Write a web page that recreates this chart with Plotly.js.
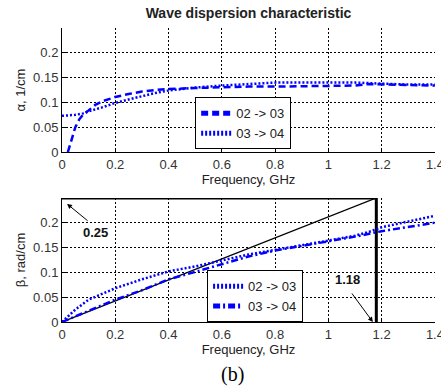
<!DOCTYPE html>
<html>
<head>
<meta charset="utf-8">
<script src="https://cdn.plot.ly/plotly-3.0.1.min.js"></script>
<style>html,body{margin:0;padding:0;background:#fff;}#chart{width:441px;height:391px;}</style>
</head>
<body>
<div id="chart"></div>
<script>
// ---- Data ----
const chartTitle = "Wave dispersion characteristic";
const xTickVals = [0, 0.2, 0.4, 0.6, 0.8, 1, 1.2, 1.4];
const xTickText = ["0", "0.2", "0.4", "0.6", "0.8", "1", "1.2", "1.4"];
const yTickVals = [0, 0.05, 0.1, 0.15, 0.2];
const yTickText = ["0", "0.05", "0.1", "0.15", "0.2"];

// Attenuation alpha (1/cm)
const alpha0203_f = [0.022, 0.03, 0.04, 0.05, 0.065, 0.08, 0.1, 0.125, 0.15, 0.2, 0.25, 0.3, 0.35, 0.4, 0.5, 0.6, 0.7, 0.8, 0.9, 1.0, 1.1, 1.15, 1.2, 1.3, 1.4];
const alpha0203   = [0, 0.015, 0.035, 0.05, 0.066, 0.076, 0.084, 0.095, 0.102, 0.111, 0.117, 0.122, 0.125, 0.127, 0.129, 0.131, 0.132, 0.132, 0.133, 0.133, 0.134, 0.137, 0.136, 0.135, 0.134];
const alpha0304_f = [0, 0.05, 0.08, 0.1, 0.15, 0.2, 0.25, 0.3, 0.35, 0.4, 0.5, 0.6, 0.7, 0.8, 0.9, 1.0, 1.1, 1.2, 1.3, 1.4];
const alpha0304   = [0.073, 0.075, 0.078, 0.082, 0.09, 0.099, 0.106, 0.113, 0.119, 0.124, 0.13, 0.134, 0.137, 0.14, 0.14, 0.14, 0.14, 0.138, 0.136, 0.136];

// Phase constant beta (rad/cm)
const beta0203_f = [0, 0.025, 0.05, 0.1, 0.15, 0.2, 0.3, 0.4, 0.5, 0.6, 0.65, 0.7, 0.8, 0.9, 1.0, 1.1, 1.15, 1.2, 1.3, 1.4];
const beta0203   = [0, 0.012, 0.025, 0.045, 0.057, 0.068, 0.086, 0.102, 0.112, 0.123, 0.13, 0.136, 0.145, 0.154, 0.164, 0.174, 0.181, 0.191, 0.202, 0.214];
const beta0304_f = [0, 0.1, 0.2, 0.3, 0.4, 0.5, 0.6, 0.7, 0.8, 0.9, 1.0, 1.1, 1.2, 1.3, 1.4];
const beta0304   = [0, 0.022, 0.045, 0.064, 0.086, 0.101, 0.117, 0.132, 0.144, 0.153, 0.163, 0.172, 0.183, 0.192, 0.2];

// Light-line reference (black)
const lightLine_f = [0, 1.18];
const lightLine_b = [0, 0.25];
const box_f = [0, 1.18, 1.18];
const box_b = [0.25, 0.25, 0];

const legendNames = ["02 -> 03", "03 -> 04"];
const annBeta = {text: "0.25", x: 0.124, y: 0.181, hx: 0.019, hy: 0.238};
const annFreq = {text: "1.18", x: 1.073, y: 0.085, hx: 1.167, hy: 0.0};

// ---- Traces ----
const blue = "#0000ff";
const traces = [
  {x: alpha0203_f, y: alpha0203, name: legendNames[0], mode: "lines", xaxis: "x", yaxis: "y", legend: "legend",
   line: {color: blue, width: 2.5, dash: "7px,4px"}},
  {x: alpha0304_f, y: alpha0304, name: legendNames[1], mode: "lines", xaxis: "x", yaxis: "y", legend: "legend",
   line: {color: blue, width: 2.5, dash: "2px,2px"}},
  {x: lightLine_f, y: lightLine_b, mode: "lines", xaxis: "x2", yaxis: "y2", showlegend: false,
   line: {color: "#000", width: 1.3}},
  {x: box_f, y: box_b, mode: "lines", xaxis: "x2", yaxis: "y2", showlegend: false,
   line: {color: "#000", width: 3}},
  {x: beta0203_f, y: beta0203, name: legendNames[0], mode: "lines", xaxis: "x2", yaxis: "y2", legend: "legend2",
   line: {color: blue, width: 2.5, dash: "2px,2px"}},
  {x: beta0304_f, y: beta0304, name: legendNames[1], mode: "lines", xaxis: "x2", yaxis: "y2", legend: "legend2",
   line: {color: blue, width: 2.5, dash: "7px,3px,2px,3px"}}
];

const tickFont = {family: "Liberation Sans, Arial, sans-serif", size: 13, color: "#333"};
const titleFont = {family: "Liberation Sans, Arial, sans-serif", size: 13, color: "#222"};
const gridCommon = {showgrid: true, gridcolor: "#000", gridwidth: 1, griddash: "2px,2px", zeroline: false,
  showline: true, linecolor: "#000", linewidth: 1, mirror: false, ticks: "inside", ticklen: 4, tickcolor: "#000",
  tickfont: tickFont, ticklabeloverflow: "allow"};

function xAxis(anchor) {
  return Object.assign({}, gridCommon, {range: [0, 1.4003], tickmode: "array", tickvals: xTickVals, ticktext: xTickText,
    anchor: anchor, title: {text: "Frequency, GHz", font: titleFont, standoff: 3}});
}
function yAxis(anchor, dom, label) {
  return Object.assign({}, gridCommon, {range: [0, 0.25], domain: dom, tickmode: "array", tickvals: yTickVals, ticktext: yTickText,
    anchor: anchor, title: {text: label, font: titleFont, standoff: 4}});
}

const legendCommon = {bgcolor: "#fff", bordercolor: "#000", borderwidth: 1, font: titleFont,
  xanchor: "left", yanchor: "top", tracegroupgap: 0, itemwidth: 30, itemsizing: "constant"};

const layout = {
  width: 441, height: 391,
  margin: {l: 62, r: 6, t: 28, b: 69},
  paper_bgcolor: "#fff", plot_bgcolor: "#fff",
  showlegend: true,
  title: {text: chartTitle, font: {family: "Liberation Sans, Arial, sans-serif", size: 14, color: "#222", weight: "bold"},
    x: 0.5635, xanchor: "center", y: 0.967, yanchor: "middle"},
  xaxis: xAxis("y"),
  yaxis: yAxis("x", [0.578, 1], "α, 1/cm"),
  xaxis2: xAxis("y2"),
  yaxis2: yAxis("x2", [0, 0.422], "β, rad/cm"),
  legend: Object.assign({}, legendCommon, {x: 0.357, y: 0.764}),
  legend2: Object.assign({}, legendCommon, {x: 0.389, y: 0.176}),
  annotations: [
    {xref: "x2", yref: "y2", x: annBeta.hx, y: annBeta.hy, ax: 22, ay: 18, text: "", showarrow: true,
     arrowhead: 2, arrowsize: 1, arrowwidth: 1, arrowcolor: "#000"},
    {xref: "x2", yref: "y2", x: annBeta.x, y: annBeta.y, text: "<b>" + annBeta.text + "</b>", showarrow: false,
     font: {family: "Liberation Sans, Arial, sans-serif", size: 13, color: "#111"}},
    {xref: "x2", yref: "y2", x: annFreq.hx, y: annFreq.hy, ax: -22, ay: -30, text: "", showarrow: true,
     arrowhead: 2, arrowsize: 1, arrowwidth: 1, arrowcolor: "#000"},
    {xref: "x2", yref: "y2", x: annFreq.x, y: annFreq.y, text: "<b>" + annFreq.text + "</b>", showarrow: false,
     font: {family: "Liberation Sans, Arial, sans-serif", size: 13, color: "#111"}},
    {xref: "paper", yref: "paper", x: 0.458, y: -0.18, yanchor: "middle", xanchor: "center", text: "(b)", showarrow: false,
     font: {family: "Liberation Serif, Times New Roman, serif", size: 20, color: "#000"}}
  ]
};

Plotly.newPlot("chart", traces, layout, {displayModeBar: false, staticPlot: true});
</script>
</body>
</html>
